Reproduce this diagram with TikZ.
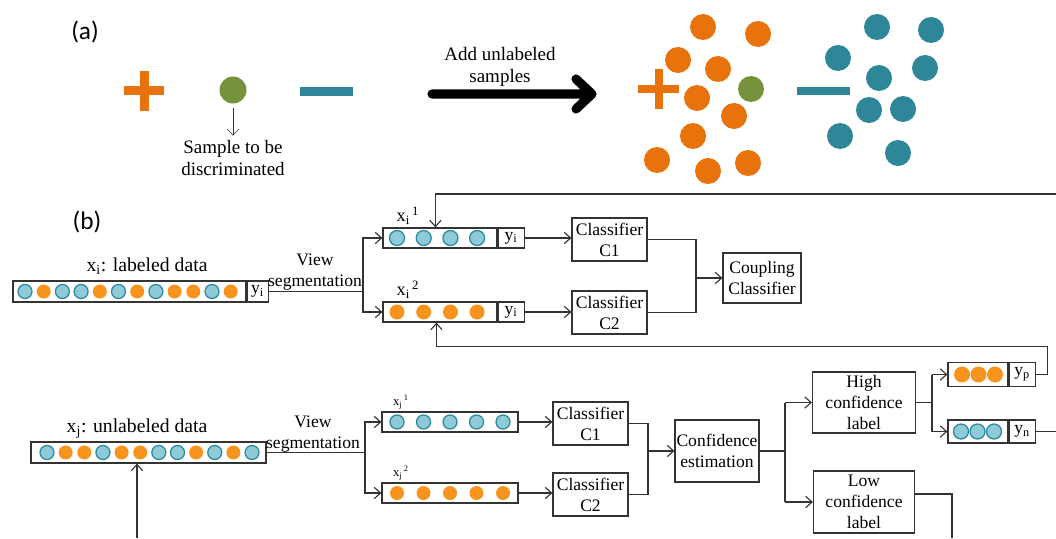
\documentclass[tikz,border=0pt]{standalone}
\usepackage{fontspec}
\setmainfont{Liberation Serif}
\newfontfamily\labfont{Carlito}
\usetikzlibrary{arrows.meta,positioning,calc}

\begin{document}
\begin{tikzpicture}[x=0.025cm, y=-0.025cm,
    every node/.style={font=\fontsize{12.5}{15}\selectfont},
    box/.style={draw=black!80, line width=0.8pt, fill=white, align=center, inner sep=0pt},
    sz/.style 2 args={minimum width=#1*0.025cm, minimum height=#2*0.025cm},
    link/.style={draw=black!80, line width=0.8pt, -{Straight Barb[length=4.5pt,width=8pt]}},
    wire/.style={draw=black!80, line width=0.8pt},
    dotb/.style={fill=dotblue, draw=dotedge, line width=0.9pt},
    doto/.style={fill=dotorange},
    panel/.style={font=\labfont\fontsize{18}{20}\selectfont},
    note/.style={align=center, font=\fontsize{13.5}{16}\selectfont}]
    \definecolor{plusorange}{HTML}{E8720C}
    \definecolor{minusblue}{HTML}{2E8799}
    \definecolor{testgreen}{HTML}{76923C}
    \definecolor{dotblue}{HTML}{8ECAD8}
    \definecolor{dotedge}{HTML}{2B8A9E}
    \definecolor{dotorange}{HTML}{F7941D}

    \useasboundingbox (0,0) rectangle (1056,538);

    % =================== (a) adding unlabeled samples ===================
    \node[panel] (pa) at (85,32) {(a)};

    % plus, sample, minus
    \fill[plusorange] (124,86.5) rectangle (164,95.5);
    \fill[plusorange] (139.5,71) rectangle (148.5,111);
    \node[circle, fill=testgreen, inner sep=0pt, minimum size=27*0.025cm] (gdot) at (233,90) {};
    \fill[minusblue] (300,87) rectangle (353,96);
    \node[note] (samp) at (233,158) {Sample to be\\discriminated};
    \draw[-{Straight Barb[length=4.5pt,width=8pt]}, black!80] (gdot.south) ++(0,4) -- ++(0,28);

    % big arrow
    \node[note] (addl) at (500,67) {Add unlabeled\\samples};
    \draw[line width=6.5pt, line cap=round, line join=round]
      (432,94) -- (592,94) (576,79) -- (592,94) -- (576,109);

    % clusters
    \fill[plusorange] (638,85) rectangle (679,93);
    \fill[plusorange] (654.5,69) rectangle (662.5,109);
    \foreach \x/\y in {703/27, 758/34, 678/60, 718/69, 697/98, 734/116,
                       693/136, 657/160, 708/171, 748/163}{
      \fill[plusorange] (\x,\y) circle[radius=13];
    }
    \fill[testgreen] (751,89) circle[radius=13];
    \fill[minusblue] (797,87) rectangle (850,95);
    \foreach \x/\y in {877/27, 931/30, 838/58, 925/68, 879/78, 869/110,
                       903/109, 840/136, 898/153}{
      \fill[minusblue] (\x,\y) circle[radius=13];
    }

    % =================== (b) labeled data ===================
    \node[panel] (pb) at (87,222) {(b)};

    \node[box, sz={233}{21}] (xi) at (129.5,291.5) {};
    \node[box, sz={21}{21}, anchor=west] (xiy) at (xi.east) {y\textsubscript{i}};
    \foreach \c [count=\k from 0] in {dotb,doto,dotb,dotb,doto,dotb,doto,dotb,doto,doto,dotb,doto}{
      \path[\c] (25+\k*18.7,291.5) circle[radius=7];
    }
    \node[font=\fontsize{14}{16}\selectfont] (xilab) at (147,266) {x\textsubscript{i}: labeled data};
    \node[align=center, anchor=south] (vs1) at (315,295) {View\\segmentation};

    \node[box, sz={114}{20}] (xi1) at (440,238) {};
    \node[box, sz={26}{20}, anchor=west] (xi1y) at (xi1.east) {y\textsubscript{i}};
    \node[box, sz={114}{20}] (xi2) at (440,312) {};
    \node[box, sz={26}{20}, anchor=west] (xi2y) at (xi2.east) {y\textsubscript{i}};
    \foreach \k in {0,...,3}{
      \path[dotb] (397+\k*26.7,238) circle[radius=7.5];
      \path[doto] (397+\k*26.7,312) circle[radius=7.5];
    }
    \node[font=\fontsize{13}{15}\selectfont] (xi1lab) at (408,216) {x\textsubscript{i}\textsuperscript{\,1}};
    \node[font=\fontsize{13}{15}\selectfont] (xi2lab) at (408,290) {x\textsubscript{i}\textsuperscript{\,2}};

    \node[box, sz={75}{43}] (c1) at (609.5,239.5) {Classifier\\C1};
    \node[box, sz={75}{43}] (c2) at (609.5,312.5) {Classifier\\C2};
    \node[box, sz={78}{50}] (cc) at (762,278) {Coupling\\Classifier};

    \coordinate (s1) at (363,291.5);
    \draw[wire] (xiy.east) -- (s1);
    \draw[link] (s1) |- (xi1.west);
    \draw[link] (s1) |- (xi2.west);
    \draw[link] (xi1y.east) -- (c1.west |- xi1y.east);
    \draw[link] (xi2y.east) -- (c2.west |- xi2y.east);
    \coordinate (m1) at (696,0);
    \draw[wire] (c1.east) -| (m1 |- c2.east) -- (c2.east);
    \draw[link] (m1 |- cc.west) -- (cc.west);

    % =================== (b) unlabeled data ===================
    \node[box, sz={235}{21}] (xj) at (148.5,452.5) {};
    \foreach \c [count=\k from 0] in {dotb,doto,doto,dotb,doto,doto,dotb,dotb,doto,dotb,doto,dotb}{
      \path[\c] (47+\k*18.64,452.5) circle[radius=7];
    }
    \node[font=\fontsize{14}{16}\selectfont] (xjlab) at (137,429) {x\textsubscript{j}: unlabeled data};
    \node[align=center, anchor=south] (vs2) at (313,457) {View\\segmentation};

    \node[box, sz={136}{20}] (xj1) at (450,422) {};
    \node[box, sz={136}{20}] (xj2) at (450,493) {};
    \foreach \k in {0,...,4}{
      \path[dotb] (397+\k*26.5,422) circle[radius=7];
      \path[doto] (397+\k*26.5,493) circle[radius=7];
    }
    \node[font=\fontsize{9}{11}\selectfont] (xj1lab) at (401,402) {x\textsubscript{j}\textsuperscript{\,1}};
    \node[font=\fontsize{9}{11}\selectfont] (xj2lab) at (401,473) {x\textsubscript{j}\textsuperscript{\,2}};

    \node[box, sz={75}{43}] (lc1) at (590.5,423.5) {Classifier\\C1};
    \node[box, sz={75}{43}] (lc2) at (590.5,494.5) {Classifier\\C2};
    \node[box, sz={84}{62}] (ce) at (717,451) {Confidence\\estimation};
    \node[box, sz={103}{61}] (hi) at (864,402.5) {High\\confidence\\label};
    \node[box, sz={101}{62}] (lo) at (864,502) {Low\\confidence\\label};

    \node[box, sz={60}{24}] (yp) at (978,374.5) {};
    \node[box, sz={26}{24}, anchor=west] (ypy) at (yp.east) {y\textsubscript{p}};
    \node[box, sz={60}{23}] (yn) at (978,431.5) {};
    \node[box, sz={26}{23}, anchor=west] (yny) at (yn.east) {y\textsubscript{n}};
    \foreach \k in {0,1,2}{
      \fill[dotorange] (962+\k*16.5,374.5) circle[radius=8];
      \path[dotb] (961+\k*16.5,431.5) circle[radius=7.5];
    }

    \coordinate (s2) at (365,452.5);
    \draw[wire] (xj.east) -- (s2);
    \draw[link] (s2) |- (xj1.west);
    \draw[link] (s2) |- (xj2.west);
    \draw[link] (xj1.east) -- (lc1.west |- xj1.east);
    \draw[link] (xj2.east) -- (lc2.west |- xj2.east);
    \coordinate (m2) at (648,0);
    \draw[wire] (lc1.east) -| (m2 |- lc2.east) -- (lc2.east);
    \draw[link] (m2 |- ce.west) -- (ce.west);

    \coordinate (s3) at (785,0);
    \draw[wire] (ce.east) -- (s3 |- ce.east);
    \draw[wire] (s3 |- hi.west) -- (s3 |- lo.west);
    \draw[link] (s3 |- hi.west) -- (hi.west);
    \draw[link] (s3 |- lo.west) -- (lo.west);

    \coordinate (s4) at (932,0);
    \draw[wire] (hi.east) -- (s4 |- hi.east);
    \draw[wire] (s4 |- yp.west) -- (s4 |- yn.west);
    \draw[link] (s4 |- yp.west) -- (yp.west);
    \draw[link] (s4 |- yn.west) -- (yn.west);

    % feedback paths
    \coordinate (fbtop) at (1056,194);
    \coordinate (ynout) at (1056,431.5);
    \coordinate (loout) at (952,538);
    \coordinate (xjin) at (137,538);
    \draw[link] (fbtop) -| ([xshift=53*0.025cm]xi1.north west);
    \draw[link] (ypy.east) -- ++(12,0) -- ++(0,-28) -| ([xshift=54*0.025cm]xi2.south west);
    \draw[wire] (yny.east) -- (ynout);
    \draw[wire] (lo.east |- 0,494) -| (loout);
    \draw[link] (xjin) -- (xjin |- xj.south);
  \end{tikzpicture}
\end{document}
